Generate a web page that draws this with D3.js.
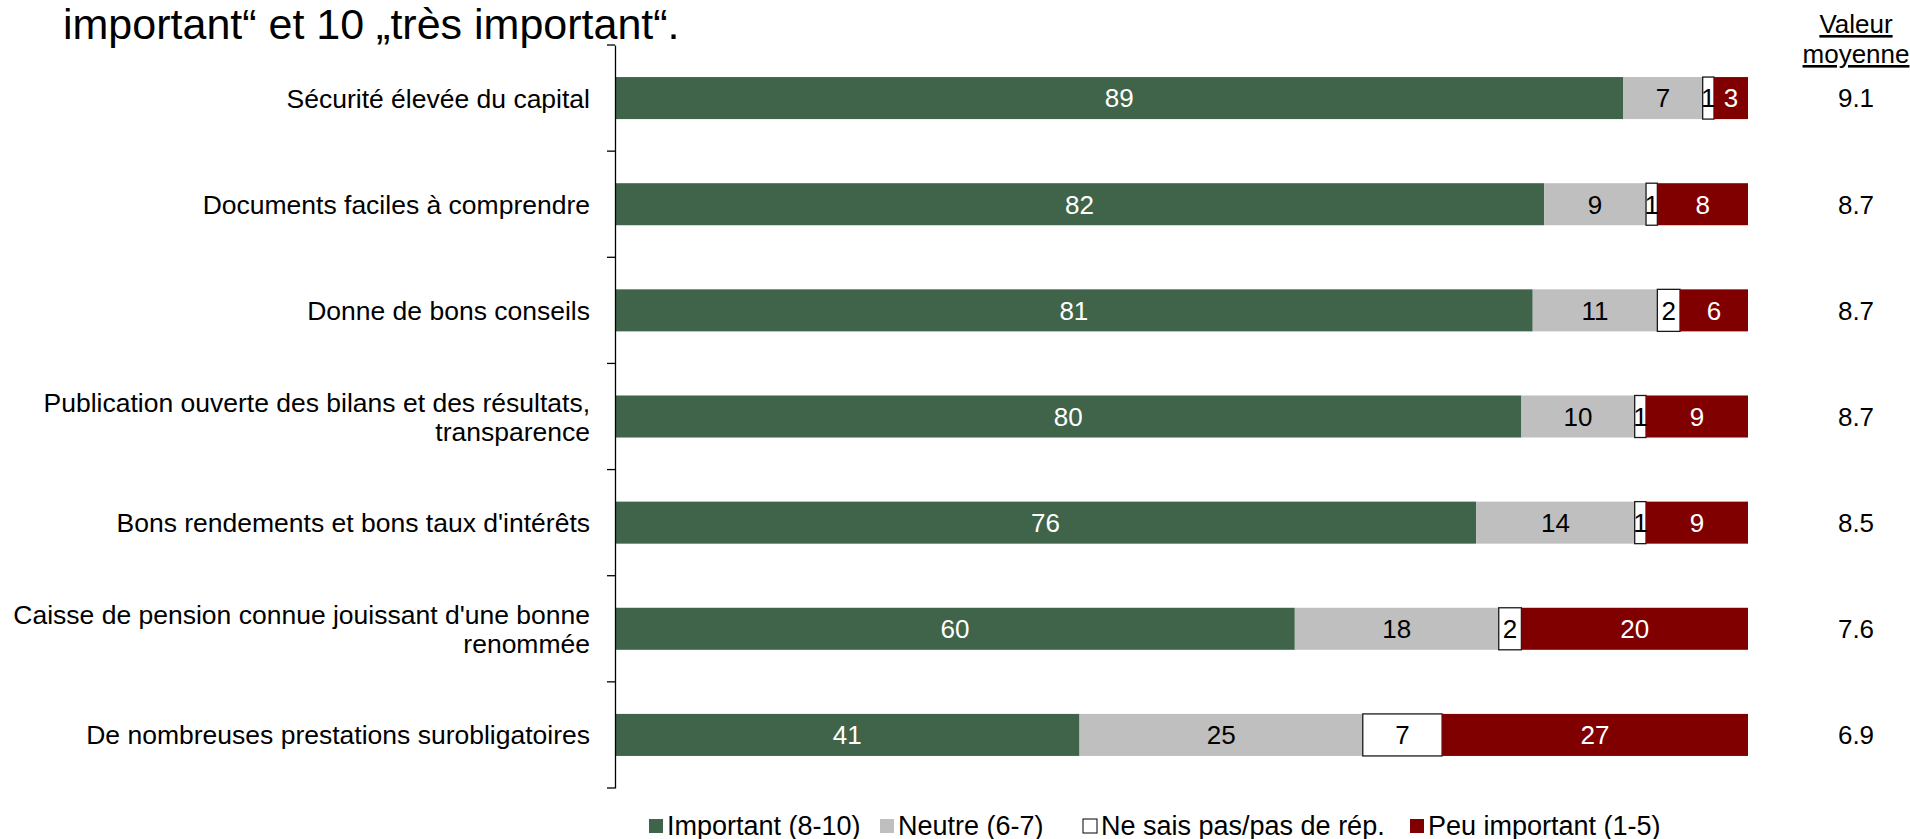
<!DOCTYPE html>
<html><head><meta charset="utf-8">
<script src="https://cdn.jsdelivr.net/npm/d3@7"></script>
<style>
html,body{margin:0;padding:0;background:#fff;}
svg{display:block;font-family:"Liberation Sans",Arial,sans-serif;}
</style></head>
<body>
<svg id="chart" width="1910" height="839"></svg>
<script>
const titleLine = "important\u201C et 10 \u201Etr\u00E8s important\u201C.";
const categories = [
  "Sécurité élevée du capital",
  "Documents faciles à comprendre",
  "Donne de bons conseils",
  "Publication ouverte des bilans et des résultats, transparence",
  "Bons rendements et bons taux d'intérêts",
  "Caisse de pension connue jouissant d'une bonne renommée",
  "De nombreuses prestations surobligatoires"
];
const seriesNames = ["Important (8-10)", "Neutre (6-7)", "Ne sais pas/pas de rép.", "Peu important (1-5)"];
const important = [89, 82, 81, 80, 76, 60, 41];
const neutre    = [7, 9, 11, 10, 14, 18, 25];
const nsp       = [1, 1, 2, 1, 1, 2, 7];
const peu       = [3, 8, 6, 9, 9, 20, 27];
const meanValues = ["9.1", "8.7", "8.7", "8.7", "8.5", "7.6", "6.9"];
const meanHeader = ["Valeur", "moyenne"];

const colors = ["#40644A", "#BFBFBF", "#FFFFFF", "#800000"];
const labelColors = ["#fff", "#000", "#000", "#fff"];
const seriesValues = [important, neutre, nsp, peu];

const svg = d3.select("#chart");
const FS = 26;
const LFS = 26.5;

// title (second line of the original title)
svg.append("text").attr("x", 63).attr("y", 39)
  .attr("font-size", 43).attr("fill", "#000").text(titleLine);

const x = d3.scaleLinear().domain([0, 100]).range([615, 1748]);
const y = d3.scaleBand().domain(categories).range([45, 788])
  .paddingInner(0.604).paddingOuter(0.302);

const rows = categories.map((c, i) => {
  const r = {cat: c};
  seriesNames.forEach((s, k) => r[s] = seriesValues[k][i]);
  return r;
});
const stacked = d3.stack().keys(seriesNames)(rows);

const g = svg.append("g");
stacked.forEach((layer, k) => {
  const lg = g.append("g");
  lg.selectAll("rect").data(layer).join("rect")
    .attr("x", d => x(d[0]))
    .attr("y", d => y(d.data.cat))
    .attr("width", d => x(d[1]) - x(d[0]))
    .attr("height", y.bandwidth())
    .attr("fill", colors[k])
    .attr("stroke", k === 2 ? "#1a1a1a" : "none")
    .attr("stroke-width", k === 2 ? 1.3 : 0);
});
stacked.forEach((layer, k) => {
  g.append("g").selectAll("text").data(layer).join("text")
    .attr("x", d => (x(d[0]) + x(d[1])) / 2)
    .attr("y", d => y(d.data.cat) + y.bandwidth() / 2)
    .attr("dy", "0.36em")
    .attr("text-anchor", "middle")
    .attr("font-size", FS)
    .attr("fill", labelColors[k])
    .text(d => d.data[seriesNames[k]]);
});

// axis line via d3 axis (no ticks at centers), plus boundary ticks
const axisG = svg.append("g").attr("transform", `translate(${x(0)},0)`)
  .call(d3.axisLeft(y).tickSize(0).tickFormat(""));
axisG.select(".domain").attr("stroke", "#000").attr("stroke-width", 1.3);
const bounds = d3.range(categories.length + 1).map(i => y.range()[0] + i * y.step());
svg.append("g").selectAll("line").data(bounds).join("line")
  .attr("x1", x(0) - 8).attr("x2", x(0))
  .attr("y1", d => d).attr("y2", d => d)
  .attr("stroke", "#000").attr("stroke-width", 1.3);

// category labels with wrapping
const maxW = 590;
categories.forEach(c => {
  const t = svg.append("text").attr("text-anchor", "end")
    .attr("font-size", LFS).attr("fill", "#000");
  const words = c.split(" ");
  let lines = [], cur = [];
  const probe = t.append("tspan");
  words.forEach(w => {
    const test = cur.concat([w]).join(" ");
    probe.text(test);
    if (probe.node().getComputedTextLength() > maxW && cur.length) {
      lines.push(cur.join(" ")); cur = [w];
    } else cur.push(w);
  });
  lines.push(cur.join(" "));
  probe.remove();
  const lh = 29;
  const cy = y(c) + y.bandwidth() / 2;
  lines.forEach((ln, i) => {
    t.append("tspan").attr("x", x(0) - 25)
      .attr("y", cy + (i - (lines.length - 1) / 2) * lh)
      .attr("dy", "0.36em").text(ln);
  });
});

// mean value column
const mx = 1856;
meanHeader.forEach((h, i) => {
  svg.append("text").attr("x", mx).attr("y", 33 + i * 30)
    .attr("text-anchor", "middle").attr("font-size", FS)
    .style("text-decoration", "underline").text(h);
});
svg.append("g").selectAll("text").data(categories).join("text")
  .attr("x", mx).attr("y", d => y(d) + y.bandwidth() / 2).attr("dy", "0.36em")
  .attr("text-anchor", "middle").attr("font-size", FS)
  .text((d, i) => meanValues[i]);

// legend
const legendX = [649, 880, 1083, 1410];
const lgd = svg.append("g");
seriesNames.forEach((s, k) => {
  lgd.append("rect").attr("x", legendX[k]).attr("y", 819)
    .attr("width", 14).attr("height", 14)
    .attr("fill", colors[k]).attr("stroke", k === 2 ? "#000" : "none").attr("stroke-width", 1);
  lgd.append("text").attr("x", legendX[k] + 18).attr("y", 825).attr("dy", "0.36em")
    .attr("font-size", 27).text(s);
});
</script>
</body></html>
